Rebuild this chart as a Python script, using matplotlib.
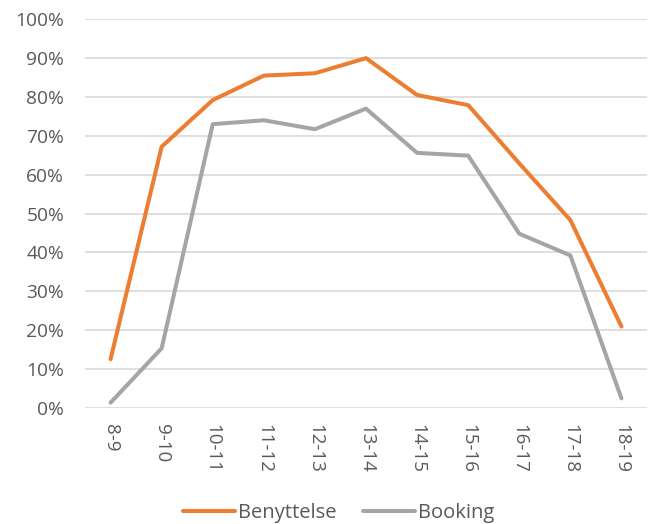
"""Benyttelse vs booking per time slot."""
import matplotlib
matplotlib.use("Agg")
import matplotlib.pyplot as plt
from matplotlib.ticker import PercentFormatter

plt.rcParams["font.family"] = ["Open Sans", "DejaVu Sans"]

time_slots = ["8-9", "9-10", "10-11", "11-12", "12-13", "13-14",
              "14-15", "15-16", "16-17", "17-18", "18-19"]
benyttelse = [0.125, 0.672, 0.792, 0.855, 0.861, 0.900,
              0.805, 0.779, 0.629, 0.483, 0.209]
booking = [0.013, 0.153, 0.730, 0.740, 0.717, 0.770,
           0.656, 0.649, 0.448, 0.392, 0.024]

fig = plt.figure(figsize=(6.55, 5.24), dpi=100)
axe = fig.add_axes([0.1298, 0.2219, 0.858, 0.7413])

x = range(len(time_slots))
axe.plot(x, benyttelse, color="#ED7D31", linewidth=2.9, label="Benyttelse",
         solid_capstyle="round", zorder=3)
axe.plot(x, booking, color="#A5A5A5", linewidth=2.9, label="Booking",
         solid_capstyle="round", zorder=3)

axe.set_ylim(0, 1)
axe.set_xlim(-0.5, 10.5)
axe.set_yticks([i / 10 for i in range(11)])
axe.yaxis.set_major_formatter(PercentFormatter(1.0, decimals=0))
axe.set_xticks(list(x))
axe.set_xticklabels(time_slots, rotation=-90)
axe.grid(axis="y", color="#D9D9D9", linewidth=1.2)
axe.set_axisbelow(True)
for spine in axe.spines.values():
    spine.set_visible(False)
axe.tick_params(axis="both", length=0, labelsize=13.8, colors="#595959")
axe.tick_params(axis="x", pad=12, labelsize=13.5)
axe.tick_params(axis="y", pad=15)

fig.legend(loc="center", ncol=2, frameon=False, fontsize=14.5,
           handlelength=2.6, handletextpad=0.15, columnspacing=1.3,
           labelcolor="#595959", bbox_to_anchor=(0.5174, 0.0204))

fig.savefig("out.png", dpi=100)
